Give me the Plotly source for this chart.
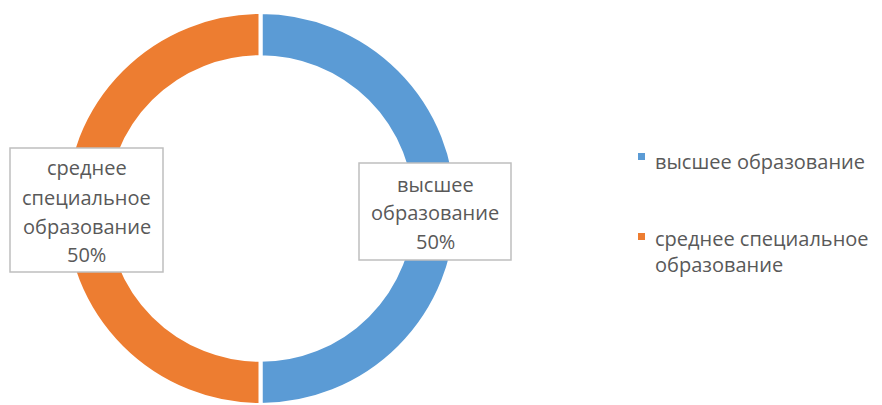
import plotly.graph_objects as go

categories = ["высшее образование", "среднее специальное образование"]
values = [50, 50]
colors = ["#5B9BD5", "#ED7D31"]
legend_text = ["высшее образование", "среднее специальное<br>образование"]
label_lines = [["высшее", "образование"], ["среднее", "специальное", "образование"]]

W, H = 882, 405
FONT = "Open Sans"
FS = 20
TXT = "#595959"

def px(x):
    return x / W

def py(y):
    return 1 - y / H

fig = go.Figure()
fig.add_trace(go.Pie(
    labels=categories, values=values, hole=0.77, sort=False,
    direction="clockwise", rotation=0,
    marker=dict(colors=colors, line=dict(color="white", width=4)),
    textinfo="none", hoverinfo="label+percent", showlegend=False,
    domain=dict(x=[px(63.5), px(457.5)], y=[0, py(12)]),
))

total = sum(values)
pcts = [f"{round(v / total * 100)}%" for v in values]

# data label boxes
boxes = [
    dict(x0=359, x1=511, y0=163, y1=260, cx=435, ys=[184, 212, 241]),
    dict(x0=10, x1=163, y0=148, y1=272, cx=86.5, ys=[168, 197, 226, 254]),
]
shapes = []
annotations = []
for i, b in enumerate(boxes):
    shapes.append(dict(type="rect", xref="paper", yref="paper",
                       x0=px(b["x0"]), x1=px(b["x1"]), y0=py(b["y1"]), y1=py(b["y0"]),
                       line=dict(color="#BFBFBF", width=1.5), fillcolor="white", layer="above"))
    lines = label_lines[i] + [pcts[i]]
    for t, yy in zip(lines, b["ys"]):
        annotations.append(dict(text=t, x=px(b["cx"]), y=py(yy), xref="paper", yref="paper",
                                xanchor="center", yanchor="middle", showarrow=False,
                                font=dict(family=FONT, size=FS, color=TXT)))

# legend
leg = [dict(sq=(638, 153), ty=160), dict(sq=(638, 233), ty=237)]
for i, l in enumerate(leg):
    sx, sy = l["sq"]
    shapes.append(dict(type="rect", xref="paper", yref="paper",
                       x0=px(sx), x1=px(sx + 7), y0=py(sy + 7), y1=py(sy),
                       line=dict(width=0), fillcolor=colors[i]))
    annotations.append(dict(text=legend_text[i], x=px(653), y=py(l["ty"] - 14), xref="paper", yref="paper",
                            xanchor="left", yanchor="top", align="left", showarrow=False,
                            font=dict(family=FONT, size=FS, color=TXT)))

fig.update_layout(
    width=W, height=H, margin=dict(l=0, r=0, t=0, b=0),
    paper_bgcolor="white", plot_bgcolor="white",
    shapes=shapes, annotations=annotations,
)
fig.write_html("out.html", config={"displayModeBar": False},
               post_script="document.body.style.margin='0';")
